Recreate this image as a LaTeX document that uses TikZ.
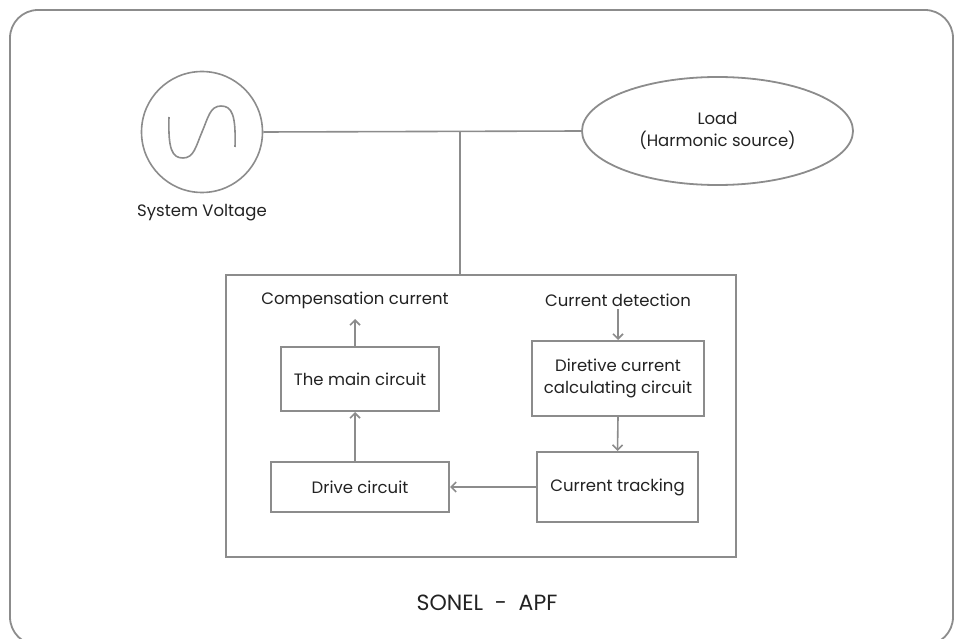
\documentclass[tikz,border=0pt]{standalone}
\usepackage{fontspec}
\setmainfont{Poppins}
\usepackage{xcolor}
\usepackage{tikz}
\usetikzlibrary{shapes.geometric,arrows.meta}

\definecolor{linegray}{HTML}{8C8C8C}
\definecolor{textdark}{HTML}{222222}

\begin{document}
\begin{tikzpicture}[x=1pt,y=-1pt,
    line width=1.6pt, draw=linegray, text=textdark,
    font=\fontsize{16.5}{22}\selectfont,
    >={Straight Barb[length=5pt,width=10pt]},
    block/.style={draw=linegray, line width=2pt, rectangle, inner sep=0pt, align=center},
    flow/.style={->, draw=linegray, line width=1.6pt}]
    \useasboundingbox (0,0) rectangle (962,639);
    \draw[linegray, line width=1.8pt, rounded corners=28pt] (10,10) rectangle (953,645);
    % source and load
    \node[draw=linegray, circle, minimum size=121pt, inner sep=0pt] (src) at (202,132) {};
    \draw[linegray, line width=1.6pt] (src.center) ++(-33,-15)
        .. controls ++(-1,32) and ++(-11,0) .. ++(14,41)
        .. controls ++(11,0) and ++(-6,14) .. (src.center)
        .. controls ++(6,-14) and ++(-11,0) .. ++(19,-26)
        .. controls ++(11,0) and ++(1,-32) .. ++(14,41);
    \node (srclabel) at (202,213) {System Voltage};
    \node[draw=linegray, ellipse, minimum width=271pt, minimum height=108pt, inner sep=0pt, align=center, line width=1.8pt] (load) at (717.5,131) {Load\\(Harmonic source)};
    \coordinate (j) at (460,132);
    \draw (src.east) -- (load.west);
    % APF box
    \node[block, minimum width=510pt, minimum height=282pt] (apf) at (481,416) {};
    \draw (j) -- (j |- apf.north);
    \node (comp) at (355,300) {Compensation current};
    \node (det) at (618,300) {Current detection};
    \node[block, minimum width=158pt, minimum height=64pt] (main) at (360,379) {The main circuit};
    \node[block, minimum width=178pt, minimum height=50pt] (drive) at (360,487) {Drive circuit};
    \node[block, minimum width=172pt, minimum height=75pt] (calc) at (618,378.5) {Diretive current\\calculating circuit};
    \node[block, minimum width=161pt, minimum height=70pt] (track) at (617.5,487) {Current tracking};
    \draw[flow] (main.north -| comp) -- ++(0,-27);
    \draw[flow] (drive.north -| comp) -- (main.south -| comp);
    \draw[flow] (det.south) ++(0,-1) -- (calc.north -| det);
    \draw[flow] (calc.south) -- (track.north);
    \draw[flow] (track.west) -- (drive.east);
    \node[font=\fontsize{22}{26}\selectfont] (title) at (487,603) {SONEL\ \ -\ \ APF};
\end{tikzpicture}
\end{document}
